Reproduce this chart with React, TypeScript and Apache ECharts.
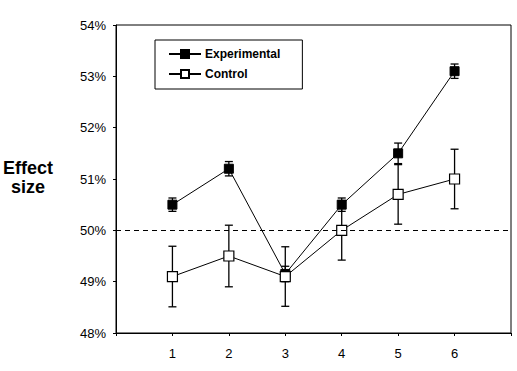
import React, { useEffect, useRef } from "react";
import * as echarts from "echarts";

const categories = [1, 2, 3, 4, 5, 6];
const experimental = [50.5, 51.2, 49.15, 50.5, 51.5, 53.1];
const experimentalErr = [0.13, 0.14, 0.15, 0.13, 0.2, 0.14];
const control = [49.1, 49.5, 49.1, 50.0, 50.7, 51.0];
const controlErr = [0.59, 0.6, 0.58, 0.58, 0.58, 0.58];
const yTicks = [48, 49, 50, 51, 52, 53, 54];
const referenceLevel = 50;

const FONT = "Liberation Sans";

function errorSeries(name: string, vals: number[], errs: number[]) {
  return {
    type: "custom",
    name: name + " error",
    z: 1,
    silent: true,
    data: categories.map((c, i) => [c, vals[i] - errs[i], vals[i] + errs[i]]),
    renderItem: (params: any, api: any) => {
      const x = api.value(0);
      const lo = api.coord([x, api.value(1)]);
      const hi = api.coord([x, api.value(2)]);
      const w = 4;
      const style = { stroke: "#000", lineWidth: 1.3 };
      return {
        type: "group",
        children: [
          { type: "line", shape: { x1: lo[0], y1: lo[1], x2: hi[0], y2: hi[1] }, style },
          { type: "line", shape: { x1: lo[0] - w, y1: lo[1], x2: lo[0] + w, y2: lo[1] }, style },
          { type: "line", shape: { x1: hi[0] - w, y1: hi[1], x2: hi[0] + w, y2: hi[1] }, style },
        ],
      };
    },
  };
}

export default function App() {
  const ref = useRef<HTMLDivElement>(null);
  useEffect(() => {
    document.body.style.margin = "0";
    const chart = echarts.init(ref.current!, undefined, { renderer: "svg" });
    chart.setOption({
      animation: false,
      backgroundColor: "#fff",
      textStyle: { fontFamily: FONT },
      grid: {
        left: 116,
        right: 6,
        top: 25,
        bottom: 38,
        show: true,
        borderColor: "#000",
        borderWidth: 1,
      },
      legend: {
        left: 155,
        top: 40,
        orient: "vertical",
        borderColor: "#000",
        borderWidth: 1,
        padding: [8, 22, 9, 13],
        itemWidth: 32,
        itemHeight: 10,
        itemGap: 8,
        textStyle: { fontFamily: FONT, fontWeight: "bold", fontSize: 12, color: "#000", padding: [0, 0, 0, -1] },
        data: ["Experimental", "Control"],
      },
      xAxis: {
        type: "value",
        min: 0,
        max: 7,
        interval: 1,
        splitLine: { show: false },
        axisLine: { lineStyle: { color: "#000", width: 1 } },
        axisTick: { length: 3, lineStyle: { color: "#000" } },
        axisLabel: {
          color: "#000",
          fontSize: 13,
          fontFamily: FONT,
          margin: 14,
          formatter: (v: number) => (categories.includes(v) ? String(v) : ""),
        },
      },
      yAxis: {
        type: "value",
        min: yTicks[0],
        max: yTicks[yTicks.length - 1],
        interval: 1,
        splitLine: { show: false },
        axisLine: { show: true, lineStyle: { color: "#000", width: 1 } },
        axisTick: { show: true, length: 3, lineStyle: { color: "#000" } },
        axisLabel: {
          color: "#000",
          fontSize: 13,
          fontFamily: FONT,
          margin: 10,
          formatter: "{value}%",
        },
      },
      graphic: [
        {
          type: "text",
          x: 28,
          y: 158,
          style: {
            text: "Effect\nsize",
            font: `bold 18px "${FONT}"`,
            fill: "#000",
            align: "center",
            verticalAlign: "top",
            lineHeight: 19,
          },
        },
      ],
      series: [
        errorSeries("Experimental", experimental, experimentalErr),
        errorSeries("Control", control, controlErr),
        {
          type: "line",
          name: "Experimental",
          z: 3,
          data: categories.map((c, i) => [c, experimental[i]]),
          symbol: "rect",
          symbolSize: 9,
          lineStyle: { color: "#000", width: 1 },
          itemStyle: { color: "#000", borderColor: "#000", borderWidth: 1 },
          markLine: {
            silent: true,
            symbol: "none",
            label: { show: false },
            lineStyle: { color: "#000", type: [5, 4], width: 1 },
            data: [{ yAxis: referenceLevel }],
          },
        },
        {
          type: "line",
          name: "Control",
          z: 4,
          data: categories.map((c, i) => [c, control[i]]),
          symbol: "rect",
          symbolSize: 10,
          showAllSymbol: true,
          lineStyle: { color: "#000", width: 1 },
          itemStyle: { color: "#fff", borderColor: "#000", borderWidth: 1.2 },
        },
      ],
    });
    return () => chart.dispose();
  }, []);
  return <div ref={ref} style={{ width: 517, height: 371 }} />;
}
